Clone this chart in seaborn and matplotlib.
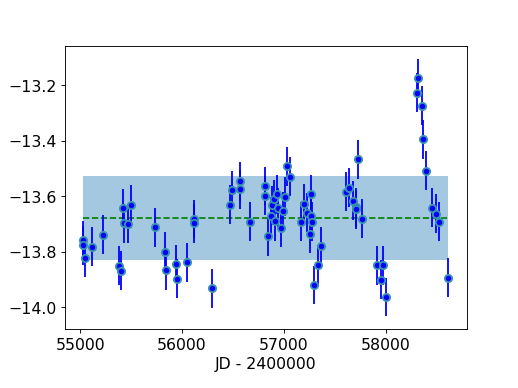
import numpy as np
import pandas as pd
import matplotlib
matplotlib.use("Agg")
import matplotlib.pyplot as plt
import seaborn as sns

# light curve values
jd = [55029, 55029, 55046, 55112, 55220, 55380, 55400, 55419, 55429, 55472,
      55501, 55731, 55829, 55845, 55940, 55953, 56051, 56114, 56114, 56297,
      56470, 56487, 56566, 56566, 56664, 56817, 56817, 56841, 56870, 56886,
      56903, 56913, 56929, 56945, 56969, 56994, 57008, 57027, 57063, 57165,
      57197, 57230, 57261, 57266, 57271, 57259, 57296, 57338, 57364, 57605,
      57642, 57682, 57703, 57708, 57728, 57767, 57910, 57976, 57949, 58005,
      58304, 58314, 58357, 58361, 58394, 58457, 58491, 58519, 58612]
mag = [-13.759, -13.778, -13.823, -13.783, -13.740, -13.851, -13.869, -13.643, -13.699, -13.700,
       -13.631, -13.713, -13.801, -13.868, -13.845, -13.898, -13.839, -13.683, -13.699, -13.933,
       -13.631, -13.578, -13.547, -13.575, -13.693, -13.564, -13.599, -13.745, -13.672, -13.634,
       -13.612, -13.691, -13.594, -13.642, -13.714, -13.654, -13.602, -13.493, -13.531, -13.693,
       -13.628, -13.660, -13.594, -13.672, -13.693, -13.736, -13.921, -13.849, -13.781, -13.585,
       -13.570, -13.617, -13.640, -13.648, -13.467, -13.682, -13.849, -13.849, -13.902, -13.964,
       -13.228, -13.175, -13.274, -13.395, -13.509, -13.642, -13.663, -13.693, -13.895]
mag_err = [0.07] * len(jd)

mean_mag = -13.68
std_mag = 0.152

df = pd.DataFrame({"jd": jd, "mag": mag, "err": mag_err})

fig, ax = plt.subplots(figsize=(6.4, 4.8), dpi=81)

ax.fill_between([min(jd), max(jd)], mean_mag - std_mag, mean_mag + std_mag,
                color="C0", alpha=0.4, linewidth=0, zorder=1)
ax.plot([min(jd), max(jd)], [mean_mag, mean_mag], color="green", ls="--", lw=1.5, zorder=2)
ax.errorbar(df["jd"], df["mag"], yerr=df["err"], fmt="none", ecolor="blue",
            elinewidth=1.6, zorder=3)
sns.scatterplot(data=df, x="jd", y="mag", color="blue", edgecolor="#3a93b0",
                linewidth=1.6, s=42, ax=ax, zorder=4)

ax.set_xlabel("JD - 2400000", fontsize=14)
ax.set_ylabel("")
ax.set_xticks([55000, 56000, 57000, 58000])
ax.set_yticks([-14.0, -13.8, -13.6, -13.4, -13.2])
ax.tick_params(labelsize=14)

plt.subplots_adjust(left=0.125, right=0.9, top=0.88, bottom=0.151)
plt.savefig("out.png", dpi=81)
